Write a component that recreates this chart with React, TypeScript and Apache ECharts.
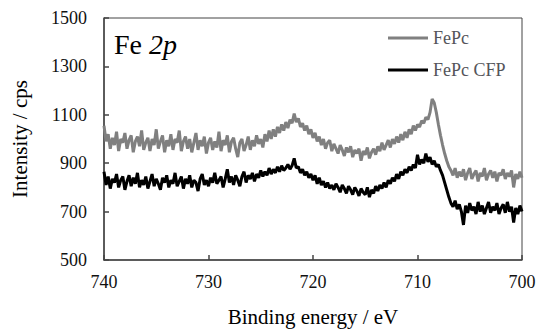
import React, { useEffect, useRef } from "react";
import * as echarts from "echarts";

const energies: number[] = [
  740, 739.8, 739.6, 739.4, 739.2, 739, 738.8, 738.6, 738.4, 738.2,
  738, 737.8, 737.6, 737.4, 737.2, 737, 736.8, 736.6, 736.4, 736.2,
  736, 735.8, 735.6, 735.4, 735.2, 735, 734.8, 734.6, 734.4, 734.2,
  734, 733.8, 733.6, 733.4, 733.2, 733, 732.8, 732.6, 732.4, 732.2,
  732, 731.8, 731.6, 731.4, 731.2, 731, 730.8, 730.6, 730.4, 730.2,
  730, 729.8, 729.6, 729.4, 729.2, 729, 728.8, 728.6, 728.4, 728.2,
  728, 727.8, 727.6, 727.4, 727.2, 727, 726.8, 726.6, 726.4, 726.2,
  726, 725.8, 725.6, 725.4, 725.2, 725, 724.8, 724.6, 724.4, 724.2,
  724, 723.8, 723.6, 723.4, 723.2, 723, 722.8, 722.6, 722.4, 722.2,
  722, 721.8, 721.6, 721.4, 721.2, 721, 720.8, 720.6, 720.4, 720.2,
  720, 719.8, 719.6, 719.4, 719.2, 719, 718.8, 718.6, 718.4, 718.2,
  718, 717.8, 717.6, 717.4, 717.2, 717, 716.8, 716.6, 716.4, 716.2,
  716, 715.8, 715.6, 715.4, 715.2, 715, 714.8, 714.6, 714.4, 714.2,
  714, 713.8, 713.6, 713.4, 713.2, 713, 712.8, 712.6, 712.4, 712.2,
  712, 711.8, 711.6, 711.4, 711.2, 711, 710.8, 710.6, 710.4, 710.2,
  710, 709.8, 709.6, 709.4, 709.2, 709, 708.8, 708.6, 708.4, 708.2,
  708, 707.8, 707.6, 707.4, 707.2, 707, 706.8, 706.6, 706.4, 706.2,
  706, 705.8, 705.6, 705.4, 705.2, 705, 704.8, 704.6, 704.4, 704.2,
  704, 703.8, 703.6, 703.4, 703.2, 703, 702.8, 702.6, 702.4, 702.2,
  702, 701.8, 701.6, 701.4, 701.2, 701, 700.8, 700.6, 700.4, 700.2,
  700,
];

const fePc: number[] = [
  1055, 990, 1020, 960, 1005, 975, 1030, 950, 1000, 985,
  1025, 960, 995, 1015, 945, 990, 1010, 970, 1035, 955,
  985, 1005, 950, 1000, 975, 1040, 960, 990, 1015, 945,
  995, 970, 1020, 955, 1000, 985, 1035, 950, 990, 1010,
  960, 1000, 945, 985, 1025, 955, 995, 970, 1010, 940,
  985, 1005, 955, 990, 965, 1030, 950, 995, 975, 1015,
  945, 990, 1005, 960, 925, 985, 1000, 950, 975, 1010,
  955, 995, 970, 1015, 980, 1000, 965, 1020, 990, 1035,
  1000, 1040, 1010, 1050, 1025, 1060, 1035, 1070, 1045, 1080,
  1065, 1105, 1070, 1085, 1050, 1065, 1035, 1055, 1020, 1040,
  1005, 1025, 990, 1010, 975, 1000, 960, 985, 995, 950,
  980, 960, 940, 975, 955, 930, 965, 945, 970, 925,
  955, 940, 960, 910, 950, 935, 965, 920, 945, 960,
  935, 970, 950, 985, 955, 975, 995, 965, 1000, 980,
  1010, 985, 1020, 995, 1030, 1005, 1040, 1020, 1055, 1035,
  1060, 1050, 1075, 1065, 1090, 1080, 1110, 1165, 1150, 1110,
  1060, 1015, 975, 940, 910, 885, 870, 850, 880, 840,
  865, 845, 875, 830, 860, 880, 835, 855, 870, 825,
  860, 845, 880, 830, 855, 870, 840, 865, 825, 860,
  850, 875, 835, 860, 845, 870, 800, 855, 835, 865,
  840,
];

const fePcCfp: number[] = [
  865, 810, 845, 795, 835, 820, 855, 800, 830, 845,
  790, 825, 850, 805, 840, 815, 860, 800, 830, 810,
  845, 795, 825, 855, 805, 835, 815, 790, 840, 820,
  850, 800, 830, 815, 860, 805, 825, 845, 795, 835,
  815, 850, 800, 830, 820, 785, 835, 855, 810, 830,
  805, 840, 820, 860, 815, 830, 845, 800, 835, 875,
  820, 845, 810, 850, 830, 805, 845, 865, 820, 850,
  835, 860, 825, 855, 840, 870, 845, 865, 850, 880,
  855, 875, 860, 885, 865, 890, 870, 880, 895, 875,
  890, 920, 880, 885, 860, 875, 850, 865, 840, 855,
  830, 850, 815, 840, 810, 825, 800, 820, 795, 810,
  790, 815, 800, 780, 810, 795, 775, 805, 790, 770,
  800, 785, 765, 795, 780, 770, 800, 760, 790, 775,
  805, 785, 810, 795, 820, 800, 830, 815, 840, 825,
  855, 835, 865, 850, 875, 860, 885, 870, 895, 880,
  935, 895, 915, 900, 940, 905, 925, 895, 910, 885,
  895, 870, 850, 820, 790, 760, 735, 720, 745, 710,
  730, 700, 645, 725, 695, 735, 705, 720, 690, 740,
  700, 725, 690, 715, 740, 695, 720, 705, 735, 690,
  715, 730, 695, 740, 700, 720, 655, 715, 690, 725,
  700,
];

const seriesNames = ["FePc", "FePc CFP"];
const yTicks = [500, 700, 900, 1100, 1300, 1500];

const FONT = "serif";

export default function App() {
  const ref = useRef<HTMLDivElement>(null);
  useEffect(() => {
    if (!ref.current) return;
    const chart = echarts.init(ref.current, undefined, { renderer: "svg" });
    const toPairs = (ys: number[]) => energies.map((e, i) => [e, ys[i]]);
    chart.setOption({
      animation: false,
      backgroundColor: "#fff",
      grid: {
        left: 104,
        top: 18,
        right: 17,
        bottom: 65,
        show: true,
        borderColor: "#444",
        borderWidth: 1,
        backgroundColor: "transparent",
      },
      legend: {
        orient: "vertical",
        left: 383,
        top: 24,
        itemWidth: 40,
        itemHeight: 3,
        itemGap: 14,
        icon: "rect",
        textStyle: {
          fontFamily: "Times New Roman",
          fontSize: 18,
        },
        data: seriesNames,
      },
      graphic: [
        {
          type: "text",
          left: 114,
          top: 30,
          style: {
            text: "{a|Fe }{b|2p}",
            rich: {
              a: { fontFamily: FONT, fontSize: 28, fill: "#000" },
              b: { fontFamily: FONT, fontSize: 28, fontStyle: "italic", fill: "#000" },
            },
          },
        },
      ],
      xAxis: {
        type: "value",
        inverse: true,
        min: 700,
        max: 740,
        interval: 10,
        name: "Binding energy / eV",
        nameLocation: "middle",
        nameGap: 46,
        nameTextStyle: { fontFamily: FONT, fontSize: 21, color: "#000" },
        axisLine: { show: true, lineStyle: { color: "#444", width: 1.5 } },
        axisTick: { show: true, inside: true, length: 5, lineStyle: { color: "#444", width: 1.5 } },
        axisLabel: {
          fontFamily: FONT,
          fontSize: 18,
          color: "#111",
          margin: 13,
        },
        splitLine: { show: false },
      },
      yAxis: {
        type: "value",
        min: 500,
        max: 1500,
        name: "Intensity / cps",
        nameLocation: "middle",
        nameGap: 74,
        nameTextStyle: { fontFamily: FONT, fontSize: 21, color: "#000" },
        axisLine: { show: true, lineStyle: { color: "#444", width: 1.5 } },
        axisTick: {
          show: true,
          inside: true,
          length: 5,
          lineStyle: { color: "#444", width: 1.5 },
          customValues: yTicks,
        },
        axisLabel: {
          fontFamily: FONT,
          fontSize: 18,
          color: "#111",
          margin: 17,
          customValues: yTicks,
          formatter: (v: number) => String(v),
        },
        splitLine: { show: false },
      },
      series: [
        {
          name: seriesNames[0],
          type: "line",
          data: toPairs(fePc),
          symbol: "none",
          lineStyle: { color: "#808080", width: 3 },
          itemStyle: { color: "#808080" },
        },
        {
          name: seriesNames[1],
          type: "line",
          data: toPairs(fePcCfp),
          symbol: "none",
          lineStyle: { color: "#000", width: 3 },
          itemStyle: { color: "#000" },
        },
      ],
    });
    return () => chart.dispose();
  }, []);
  return <div ref={ref} style={{ width: 539, height: 332, position: "absolute", left: 0, top: 0 }} />;
}
